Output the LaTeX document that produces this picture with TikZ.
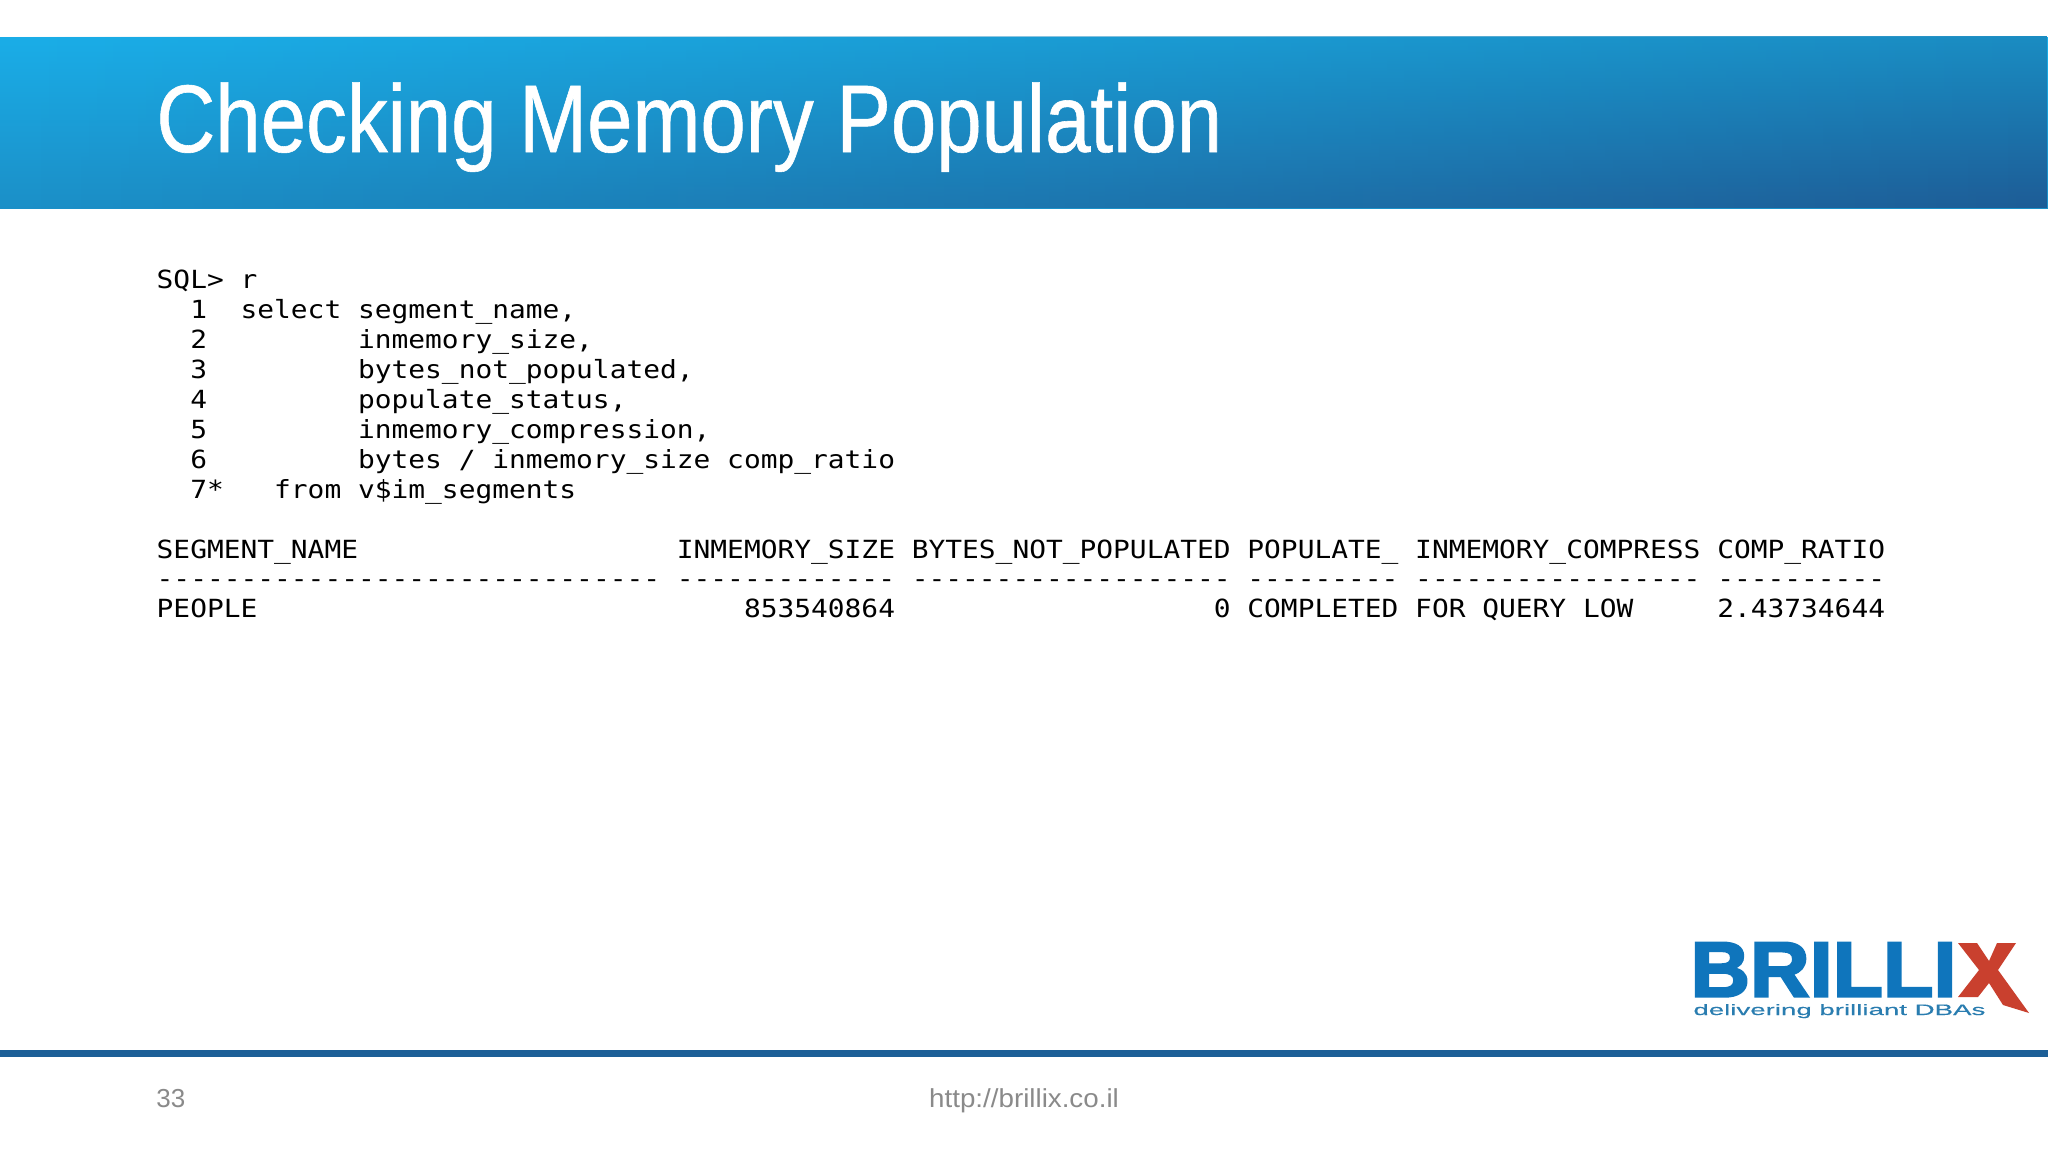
\documentclass[tikz,border=0pt]{standalone}
\usepackage{fontspec}
\usepackage{graphicx}
\usetikzlibrary{fadings}
\setmainfont{Liberation Sans}
\newfontfamily\monof[FakeStretch=1.115]{DejaVu Sans Mono}
\newfontfamily\titlef[FakeStretch=0.85,FakeBold=0.6]{Liberation Sans}
\newfontfamily\urlf[FakeStretch=1.067]{Liberation Sans}
\newfontfamily\logof[FakeBold=2.8]{Liberation Sans Bold}
\newfontfamily\tagf[FakeBold=0.2]{Liberation Sans}
\definecolor{bannerTL}{HTML}{1AAEE8}
\definecolor{bannerBL}{HTML}{1B90C8}
\definecolor{bannerTR}{HTML}{1A8CC2}
\definecolor{bannerBR}{HTML}{1E5C96}
\definecolor{rulecol}{HTML}{1D5F97}
\definecolor{foot}{HTML}{8A8A8A}
\definecolor{logoblue}{HTML}{0F75BC}
\definecolor{logotag}{HTML}{2A7DB0}
\definecolor{logored}{HTML}{C9402E}
\tikzfading[name=hfade,left color=transparent!100,right color=transparent!0]
\tikzset{
  code/.style={anchor=base west,inner sep=0pt,font=\monof\fontsize{12.5pt}{15pt}\selectfont,text=black},
  foottext/.style={anchor=base west,inner sep=0pt,font=\fontsize{13pt}{15pt}\selectfont,text=foot},
}
\newcommand{\cx}[1]{{156.3+16.78*#1}}
\begin{document}
\begin{tikzpicture}[x=0.5pt,y=-0.5pt]
\useasboundingbox (0,0) rectangle (2048,1152);
\fill[white] (0,0) rectangle (2048,1152);
\shade[top color=bannerTL,bottom color=bannerBL] (0,37) rectangle (2048,208);
\shade[top color=bannerTR,bottom color=bannerBR,path fading=hfade] (0,37) rectangle (2048,208);
\node[anchor=base west,inner sep=0pt,text=white,font=\titlef\fontsize{48pt}{50pt}\selectfont] (title) at (156,152) {Checking Memory Population};
% code
\node[code] (a0) at (\cx{0},288) {SQL> r};
\node[code] (a1) at (\cx{2},318) {1};
\node[code] (a1b) at (\cx{5},318) {select segment\_name,};
\node[code] (a2) at (\cx{2},348) {2};
\node[code] (a2b) at (\cx{12},348) {inmemory\_size,};
\node[code] (a3) at (\cx{2},378) {3};
\node[code] (a3b) at (\cx{12},378) {bytes\_not\_populated,};
\node[code] (a4) at (\cx{2},408) {4};
\node[code] (a4b) at (\cx{12},408) {populate\_status,};
\node[code] (a5) at (\cx{2},438) {5};
\node[code] (a5b) at (\cx{12},438) {inmemory\_compression,};
\node[code] (a6) at (\cx{2},468) {6};
\node[code] (a6b) at (\cx{12},468) {bytes / inmemory\_size comp\_ratio};
\node[code] (a7) at (\cx{2},498) {7*};
\node[code] (a7b) at (\cx{7},498) {from v\$im\_segments};
% table
\node[code] (h1) at (\cx{0},558) {SEGMENT\_NAME};
\node[code] (h2) at (\cx{31},558) {INMEMORY\_SIZE};
\node[code] (h3) at (\cx{45},558) {BYTES\_NOT\_POPULATED};
\node[code] (h4) at (\cx{65},558) {POPULATE\_};
\node[code] (h5) at (\cx{75},558) {INMEMORY\_COMPRESS};
\node[code] (h6) at (\cx{93},558) {COMP\_RATIO};
\node[code] (d1) at (\cx{0},587) {------------------------------};
\node[code] (d2) at (\cx{31},587) {-------------};
\node[code] (d3) at (\cx{45},587) {-------------------};
\node[code] (d4) at (\cx{65},587) {---------};
\node[code] (d5) at (\cx{75},587) {-----------------};
\node[code] (d6) at (\cx{93},587) {----------};
\node[code] (v1) at (\cx{0},617.5) {PEOPLE};
\node[code] (v2) at (\cx{35},617.5) {853540864};
\node[code] (v3) at (\cx{63},617.5) {0};
\node[code] (v4) at (\cx{65},617.5) {COMPLETED};
\node[code] (v5) at (\cx{75},617.5) {FOR QUERY LOW};
\node[code] (v6) at (\cx{93},617.5) {2.43734644};
% logo
\node[anchor=south west,inner sep=0pt,text=logoblue] (brill) at (1690,997)
  {\resizebox{133pt}{27pt}{\logof BRILLI}};
\fill[logored] (1958,943) -- (1977,943) -- (1989,961) -- (1997,943) -- (2016,943) -- (1998,970)
  -- (2029,1013) -- (2003,1005) -- (1989,983) -- (1978,997) -- (1958,997) -- (1979,970) -- cycle;
\node[anchor=base west,inner sep=0pt,text=logotag] (tag) at (1693,1015)
  {\resizebox{146pt}{5.5pt}{\tagf delivering brilliant DBAs}};
% footer
\fill[rulecol] (0,1050) rectangle (2048,1057);
\node[foottext] (num) at (156,1107) {33};
\node[foottext,anchor=base,font=\urlf\fontsize{13pt}{15pt}\selectfont] (url) at (1024,1107) {http://brillix.co.il};
\end{tikzpicture}
\end{document}
